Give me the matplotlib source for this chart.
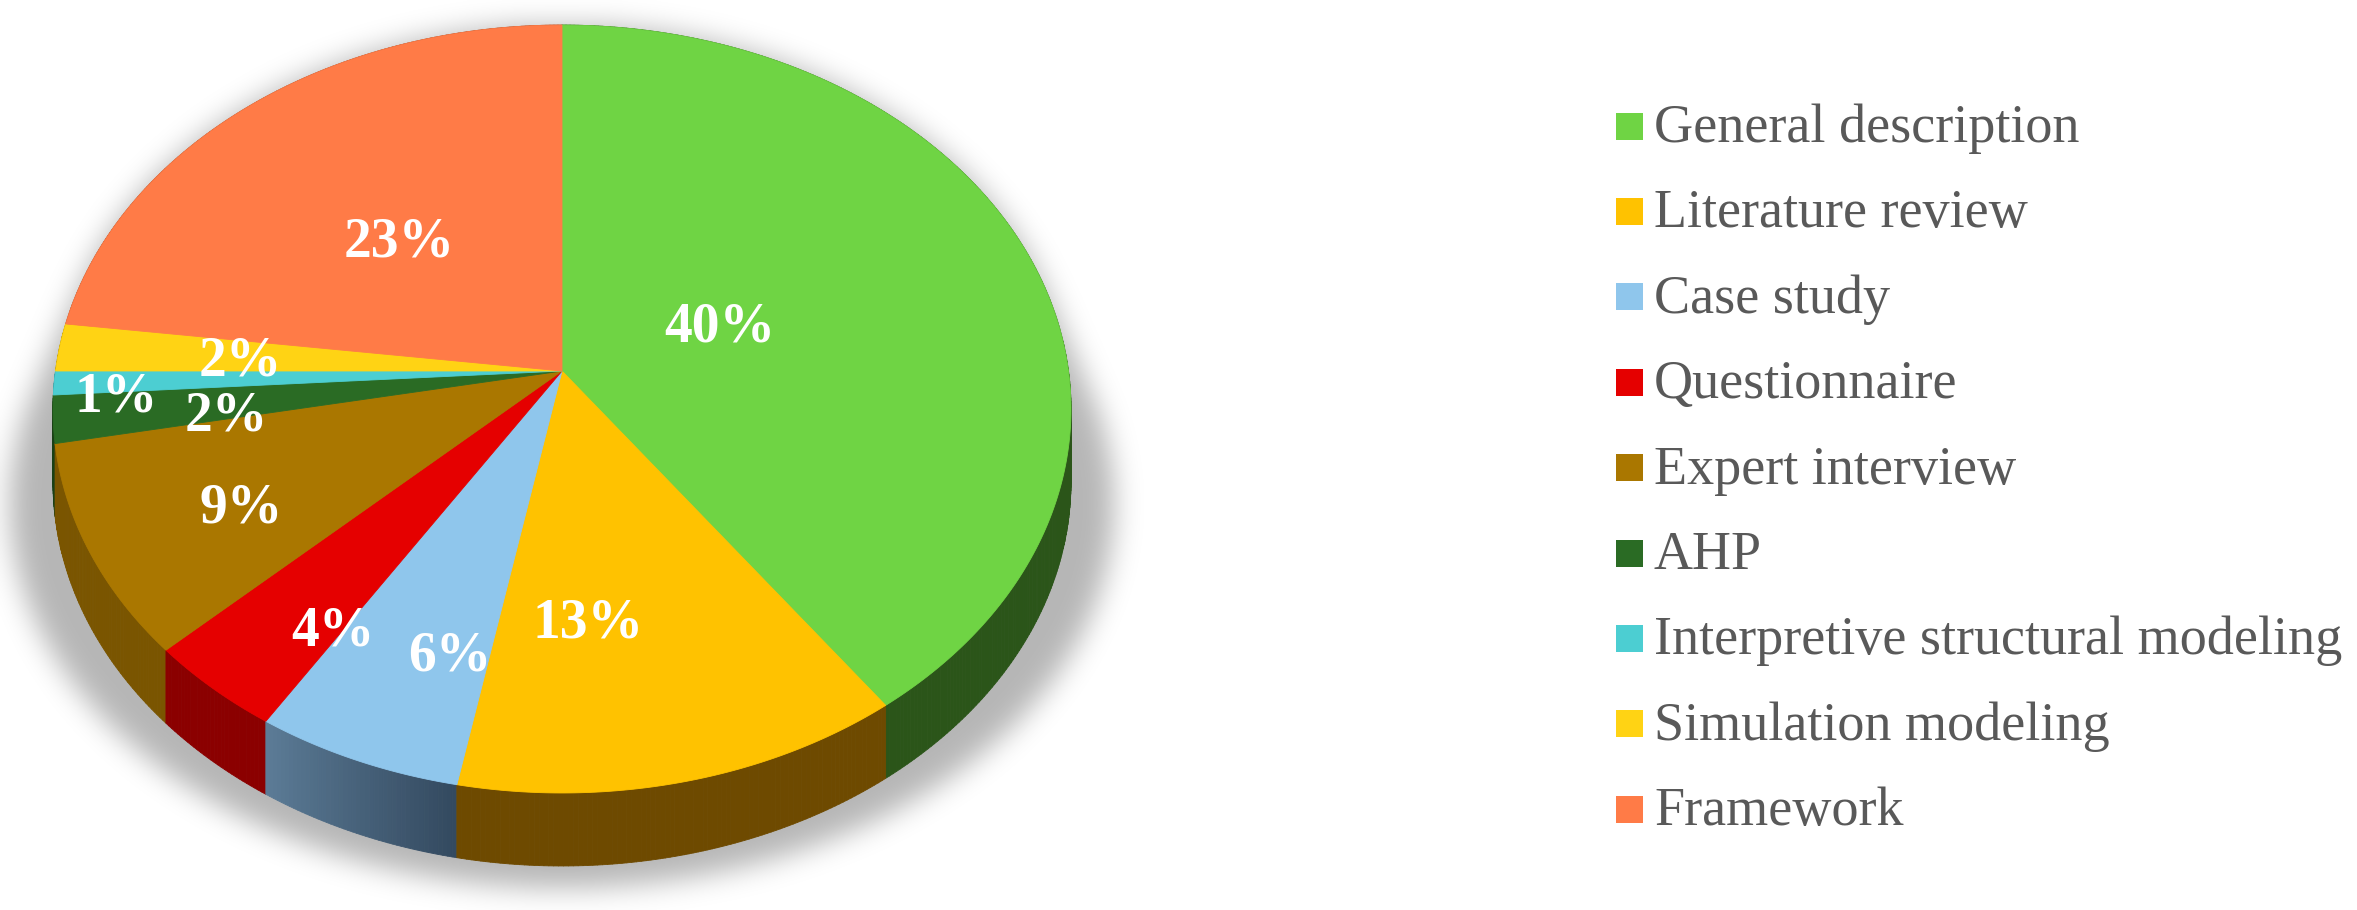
import numpy as np
import matplotlib
matplotlib.use('Agg')
import matplotlib.pyplot as plt
from matplotlib.patches import Polygon, Rectangle
from matplotlib.collections import PolyCollection
from matplotlib.path import Path
from matplotlib.colors import to_rgb

# ---------------- data ----------------
categories = ["General description", "Literature review", "Case study", "Questionnaire",
              "Expert interview", "AHP", "Interpretive structural modeling",
              "Simulation modeling", "Framework"]
shares = [40, 13, 6, 4, 9, 2, 1, 2, 23]
pct_labels = ["40%", "13%", "6%", "4%", "9%", "2%", "1%", "2%", "23%"]

# ---------------- style ----------------
top_colors = ["#6FD444", "#FFC200", "#8FC6EC", "#E50000", "#AA7700",
              "#2A6B24", "#4CCED2", "#FFD314", "#FF7B47"]
side_colors = ["#2B5519", "#6E4A00", ("#33495F", "#5C7C97"), "#8B0000", "#7A5500",
               "#1A4016", "#2E8083", "#8F7400", "#8F4420"]
label_r = [0.34, 0.615, 0.72, 0.76, 0.70, 0.665, 0.877, 0.639, 0.492]
label_shift_deg = [-3.9, 8.1, -4.95, -5.7, -1.9, -2.0, -2.0, -0.3, -1.2]

W, H = 2357, 910
CX, CY = 562, 371          # projected pie centre
A, B, K = 506.5, 380.2, 0.099   # perspective projection parameters
DEPTH = 73

def proj(r, phi_deg):
    phi = np.radians(phi_deg)
    u = r * np.sin(phi)
    v = -r * np.cos(phi)
    w = 1 - K * v
    return CX + A * u / w, CY + B * v / w

fig = plt.figure(figsize=(W / 100, H / 100), dpi=100)
ax = fig.add_axes([0, 0, 1, 1])
ax.axis('off')

# ---------------- shadow ----------------
def convex_hull(points):
    pts = sorted(map(tuple, points))
    def cross(o, a, b):
        return (a[0]-o[0])*(b[1]-o[1]) - (a[1]-o[1])*(b[0]-o[0])
    lower, upper = [], []
    for p in pts:
        while len(lower) >= 2 and cross(lower[-2], lower[-1], p) <= 0:
            lower.pop()
        lower.append(p)
    for p in reversed(pts):
        while len(upper) >= 2 and cross(upper[-2], upper[-1], p) <= 0:
            upper.pop()
        upper.append(p)
    return np.array(lower[:-1] + upper[:-1])

phis_all = np.linspace(0, 360, 721)
tx, ty = proj(1.0, phis_all)
bx = CX + (tx - CX) * 1.085
by = ty + DEPTH + 22
hull = convex_hull(np.column_stack([np.r_[tx, bx], np.r_[ty, by]]))
step = 2
xs = np.arange(0, 1200, step) + step / 2
ys = np.arange(0, H, step) + step / 2
gx, gy = np.meshgrid(xs, ys)
mask = Path(hull).contains_points(np.column_stack([gx.ravel(), gy.ravel()])).reshape(gx.shape).astype(float)
sig = 7.0
kr = np.arange(-int(3 * sig), int(3 * sig) + 1)
kern = np.exp(-kr ** 2 / (2 * sig ** 2)); kern /= kern.sum()
blur = np.apply_along_axis(lambda m: np.convolve(m, kern, mode='same'), 1, mask)
blur = np.apply_along_axis(lambda m: np.convolve(m, kern, mode='same'), 0, blur)
img = np.zeros(blur.shape + (4,))
img[..., 3] = 0.29 * blur
ax.imshow(img, extent=(0, 1200, H, 0), origin='upper', interpolation='bilinear', zorder=0)

# ---------------- slices ----------------
total = float(sum(shares))
bounds = np.r_[0, np.cumsum(shares)] / total * 360.0

quads, qcols, qdepth = [], [], []
for i in range(len(shares)):
    a0, a1 = bounds[i], bounds[i + 1]
    n = max(2, int(np.ceil((a1 - a0) / 0.5)))
    ph = np.linspace(a0, a1, n + 1)
    px, py = proj(1.0, ph)
    for j in range(n):
        q = [(px[j], py[j]), (px[j + 1], py[j + 1]),
             (px[j + 1], py[j + 1] + DEPTH), (px[j], py[j] + DEPTH)]
        quads.append(q)
        sc = side_colors[i]
        if isinstance(sc, tuple):
            t = (j + 0.5) / n
            c0, c1 = np.array(to_rgb(sc[0])), np.array(to_rgb(sc[1]))
            col = tuple(c0 * (1 - t) + c1 * t)
        else:
            col = to_rgb(sc)
        qcols.append(col)
        qdepth.append(-np.cos(np.radians(0.5 * (ph[j] + ph[j + 1]))))
order = np.argsort(qdepth)
pc = PolyCollection([quads[k] for k in order], facecolors=[qcols[k] for k in order],
                    edgecolors=[qcols[k] for k in order], linewidths=0.6, zorder=2)
ax.add_collection(pc)

for i in range(len(shares)):
    a0, a1 = bounds[i], bounds[i + 1]
    ph = np.linspace(a0, a1, max(3, int((a1 - a0) / 0.5) + 1))
    px, py = proj(1.0, ph)
    verts = [(CX, CY)] + list(zip(px, py))
    ax.add_patch(Polygon(verts, closed=True, facecolor=top_colors[i],
                         edgecolor=top_colors[i], linewidth=0.6, zorder=3))

# ---------------- percentage labels ----------------
DIGIT_H = 37
for i, lab in enumerate(pct_labels):
    mid = 0.5 * (bounds[i] + bounds[i + 1]) + label_shift_deg[i]
    lx, ly = proj(label_r[i], mid)
    ax.text(lx, ly + DIGIT_H / 2, lab, ha='center', va='baseline', color='white',
            fontsize=40, fontweight='bold', family=['Liberation Serif', 'DejaVu Serif'],
            zorder=5)

# ---------------- legend ----------------
LEG_X, LEG_Y0, LEG_DY, SQ = 1616, 126, 85.4, 27
for i, name in enumerate(categories):
    yc = LEG_Y0 + i * LEG_DY
    ax.add_patch(Rectangle((LEG_X, yc - SQ / 2), SQ, SQ, facecolor=top_colors[i],
                           edgecolor='none', zorder=5))
    ax.text(LEG_X + 38, yc + 16, name, ha='left', va='baseline', color='#595959',
            fontsize=39, family=['Liberation Serif', 'DejaVu Serif'], zorder=5)

ax.set_xlim(0, W)
ax.set_ylim(H, 0)
ax.set_aspect('auto')
fig.savefig('out.png', dpi=100, facecolor='white')
